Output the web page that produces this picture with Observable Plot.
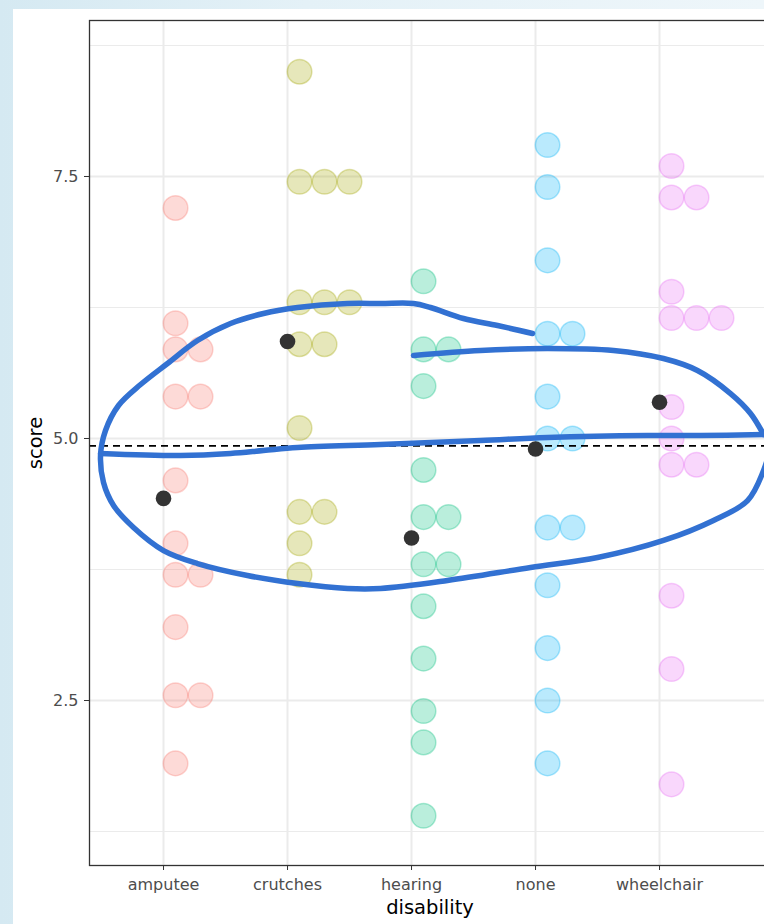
<!DOCTYPE html>
<html>
<head>
<meta charset="utf-8">
<script src="https://cdn.jsdelivr.net/npm/d3@7"></script>
<script src="https://cdn.jsdelivr.net/npm/@observablehq/plot@0.6"></script>
<style>
  html, body { margin: 0; padding: 0; width: 764px; height: 924px; overflow: hidden; }
  body { background: linear-gradient(to right, #d5e9f2 0%, #e4f1f7 40%, #eef6fa 100%); position: relative; }
  #panel { position: absolute; left: 13px; top: 9px; right: 0; bottom: 0; background: #ffffff; }
  #chart { position: absolute; left: 0; top: 0; }
  #chart svg { max-width: none !important; background: transparent; }
</style>
</head>
<body>
<div id="panel"></div>
<div id="chart"></div>
<script>
// ---- data ----
const categories = ["amputee", "crutches", "hearing", "none", "wheelchair"];
const amputee    = [7.2, 6.1, 5.85, 5.85, 5.4, 5.4, 4.6, 4.0, 3.7, 3.7, 3.2, 2.55, 2.55, 1.9];
const crutches   = [8.5, 7.45, 7.45, 7.45, 6.3, 6.3, 6.3, 5.9, 5.9, 5.1, 4.3, 4.3, 4.0, 3.7];
const hearing    = [6.5, 5.85, 5.85, 5.5, 4.7, 4.25, 4.25, 3.8, 3.8, 3.4, 2.9, 2.4, 2.1, 1.4];
const none       = [7.8, 7.4, 6.7, 6.0, 6.0, 5.4, 5.0, 5.0, 4.15, 4.15, 3.6, 3.0, 2.5, 1.9];
const wheelchair = [7.6, 7.3, 7.3, 6.4, 6.15, 6.15, 6.15, 5.3, 5.0, 4.75, 4.75, 3.5, 2.8, 1.7];
const colors = ["#F8766D", "#A3A500", "#00BF7D", "#00B0F6", "#E76BF3"];
const yMajorTicks = [2.5, 5.0, 7.5];
const yMinorTicks = [1.25, 3.75, 6.25, 8.75];

// hand-drawn annotation loop (x in category units, y in score units)
const loopOuterX = [2.976, 2.694, 2.419, 2.153, 2.016, 1.75, 1.484, 1.081, 0.806, 0.540, 0.274, 0.032, -0.185, -0.363, -0.468, -0.508, -0.484, -0.403, -0.242, 0.0, 0.274, 0.677, 1.081, 1.484, 1.75, 2.290, 2.960, 3.5, 4.032, 4.435, 4.710, 4.839, 4.911];
const loopOuterY = [6.002, 6.078, 6.145, 6.25, 6.288, 6.288, 6.288, 6.25, 6.193, 6.097, 5.935, 5.716, 5.515, 5.315, 5.076, 4.838, 4.580, 4.361, 4.151, 3.931, 3.807, 3.693, 3.616, 3.569, 3.569, 3.645, 3.769, 3.864, 4.027, 4.218, 4.408, 4.695, 4.981];
const loopUpperX = [2.016, 2.556, 3.097, 3.629, 4.032, 4.306, 4.573, 4.734, 4.839];
const loopUpperY = [5.792, 5.840, 5.859, 5.840, 5.763, 5.649, 5.429, 5.239, 5.038];
const loopMidX = [4.839, 4.331, 3.903, 3.097, 2.556, 1.75, 1.081, 0.806, 0.540, 0.137, -0.508];
const loopMidY = [5.038, 5.029, 5.029, 5.010, 4.981, 4.943, 4.914, 4.885, 4.857, 4.838, 4.857];

// ---- build tables ----
const series = [amputee, crutches, hearing, none, wheelchair];
const rows = categories.flatMap((c, i) => {
  const seen = new Map();
  return series[i].map(v => {
    const k = seen.get(v) ?? 0;
    seen.set(v, k + 1);
    return {cat: c, i, score: v, k};
  });
});
const grandMean = d3.mean(rows, d => d.score);
const strokes = [
  ["outer", loopOuterX, loopOuterY],
  ["upper", loopUpperX, loopUpperY],
  ["mid", loopMidX, loopMidY]
].flatMap(([id, xs, ys]) => xs.map((x, j) => ({id, x, y: ys[j]})));

const dotMarks = [0, 1, 2].map(j => Plot.dot(rows.filter(d => d.k === j), {
  x: "i", y: "score", r: 12.3, dx: 12 + 25 * j,
  fill: "cat", fillOpacity: 0.27, stroke: "cat", strokeOpacity: 0.32, strokeWidth: 1.5
}));

const chart = Plot.plot({
  width: 770,
  height: 924,
  marginLeft: 89,
  marginRight: 0,
  marginTop: 20,
  marginBottom: 59,
  style: {fontFamily: "'DejaVu Sans', sans-serif", fontSize: "16px", background: "transparent"},
  x: {type: "linear", domain: [-0.597, 4.895], axis: null},
  y: {domain: [0.9256, 8.9885], axis: null},
  color: {domain: categories, range: colors},
  marks: [
    Plot.ruleY(yMinorTicks, {stroke: "#ebebeb", strokeWidth: 1.1}),
    Plot.ruleY(yMajorTicks, {stroke: "#ebebeb", strokeWidth: 2}),
    Plot.ruleX(d3.range(categories.length), {stroke: "#ebebeb", strokeWidth: 2}),
    ...dotMarks,
    Plot.ruleY([grandMean], {stroke: "#000", strokeWidth: 1.7, strokeDasharray: "7,5"}),
    Plot.dot(rows, Plot.groupX({y: "mean"}, {x: "i", y: "score", r: 7.8, fill: "#333333"})),
    Plot.line(strokes, {x: "x", y: "y", z: "id", curve: "catmull-rom", stroke: "#3271d2", strokeWidth: 5.5, strokeLinecap: "round", strokeLinejoin: "round"}),
    Plot.frame({stroke: "#333333", strokeWidth: 1.3}),
    Plot.axisY(yMajorTicks, {tickSize: 5, tickPadding: 6, tickFormat: d => d.toFixed(1), stroke: "#333333", fill: "#4d4d4d", fontSize: 16, label: null}),
    Plot.axisX(d3.range(categories.length), {tickSize: 5, tickPadding: 8, tickFormat: i => categories[i], stroke: "#333333", fill: "#4d4d4d", fontSize: 16, label: null}),
    Plot.text(["score"], {frameAnchor: "left", textAnchor: "middle", dx: -54, rotate: -90, fontSize: 19.5, fill: "#000"}),
    Plot.text(["disability"], {frameAnchor: "bottom", textAnchor: "middle", lineAnchor: "bottom", dy: 48, fontSize: 19.5, fill: "#000"})
  ]
});
document.getElementById("chart").append(chart);
</script>
</body>
</html>
